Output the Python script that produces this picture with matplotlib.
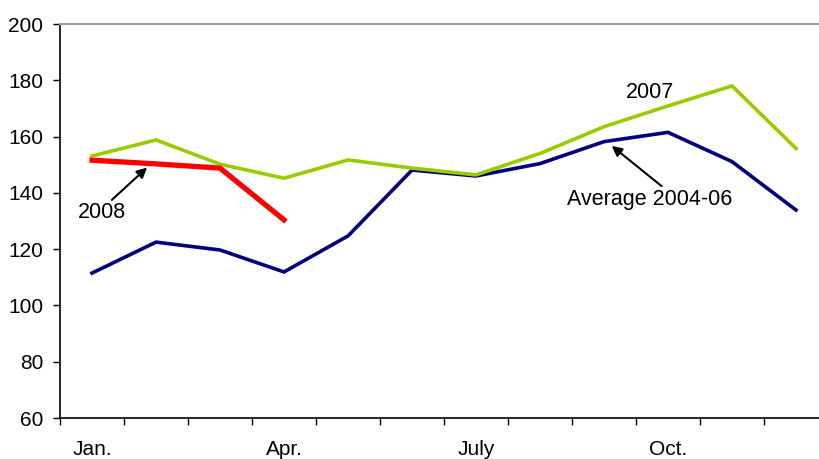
import matplotlib.pyplot as plt

months = ["Jan.", "Feb.", "Mar.", "Apr.", "May", "June", "July", "Aug.", "Sep.", "Oct.", "Nov.", "Dec."]
shown_labels = ["Jan.", "", "", "Apr.", "", "", "July", "", "", "Oct.", "", ""]
avg_2004_06 = [111.5, 122.5, 119.7, 111.9, 124.7, 148.1, 146.0, 150.4, 158.2, 161.5, 151.1, 133.9]
y2007 = [153.1, 158.8, 150.2, 145.2, 151.7, 148.8, 146.4, 154.0, 163.5, 170.9, 178.0, 155.8]
y2008 = [151.6, 150.3, 148.8, 130.4]

plt.rcParams['font.family'] = ['Liberation Sans', 'DejaVu Sans']

fig = plt.figure(figsize=(8.19, 4.59), dpi=100)
ax = fig.add_axes([0.0733, 0.0893, 1.0110 - 0.0733, 0.9477 - 0.0893])

x = list(range(len(months)))
ax.plot(x, avg_2004_06, color="#000080", lw=2.6, solid_joinstyle="miter")
ax.plot(x, y2007, color="#99CC00", lw=2.6, solid_joinstyle="miter")
ax.plot(x[:len(y2008)], y2008, color="#FF0000", lw=3.8, solid_joinstyle="miter")

ax.set_xlim(-0.5, 11.5)
ax.set_ylim(60, 200)
ax.set_yticks(range(60, 201, 20))
ax.set_xticks(x)
ax.set_xticklabels(shown_labels)
ax.set_xticks([i - 0.5 for i in range(13)], minor=True)
ax.tick_params(axis="x", which="major", length=0, pad=16, labelsize=15)
ax.tick_params(axis="x", which="minor", length=5, width=1, direction="out")
ax.tick_params(axis="y", length=5, width=1, direction="out", pad=7, labelsize=15)

ax.spines["right"].set_visible(False)
ax.spines["top"].set_color("#A0A0A0")
ax.spines["top"].set_linewidth(1.5)
ax.spines["left"].set_linewidth(1.2)
ax.spines["bottom"].set_linewidth(1.2)

arrow = dict(arrowstyle="-|>", color="black", lw=1.5, shrinkA=0, shrinkB=0, mutation_scale=15)
ax.annotate("", xy=(0.86, 149.0), xytext=(0.31, 137.5), arrowprops=arrow)
ax.text(0.16, 132.9, "2008", fontsize=15.5, ha="center", va="center")
ax.annotate("", xy=(8.12, 156.7), xytext=(8.9, 142.4), arrowprops=arrow)
ax.text(8.72, 137.5, "Average 2004-06", fontsize=15.5, ha="center", va="center")
ax.text(8.72, 175.5, "2007", fontsize=15.5, ha="center", va="center")

fig.savefig("out.png", dpi=100)
